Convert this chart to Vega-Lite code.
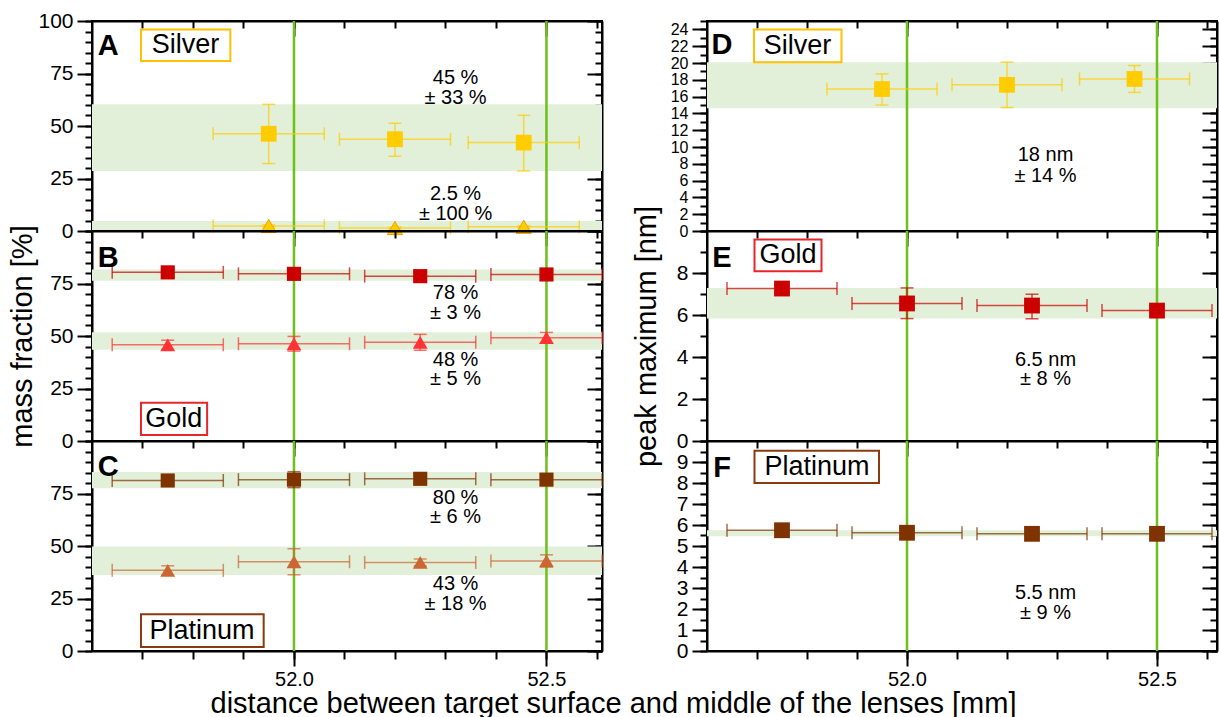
{
"$schema":"https://vega.github.io/schema/vega-lite/v6.json",
"background":"white",
"padding":{"left":6,"top":9,"right":0,"bottom":0},
"config":{
 "font":"Liberation Sans",
 "view":{"stroke":"black","strokeWidth":2},
 "axis":{"zindex":1,"grid":true,"gridOpacity":0,"domain":false,"labels":false,"ticks":true,"tickColor":"black","tickOpacity":1,"tickWidth":2,"domainColor":"black","domainWidth":2,"labelFont":"Liberation Sans","labelFontSize":21,"labelColor":"black","labelOverlap":false,"labelFlush":false,"labelPadding":4,"titleFont":"Liberation Sans","titleFontSize":29,"titleFontWeight":"normal","titleColor":"black"}
},
"datasets":{
 "vl":[{"v":52.0},{"v":52.5}],
 "bands":[
  {"p":"A","lo":28.6,"hi":60.3},{"p":"A","lo":0,"hi":4.8},
  {"p":"B","lo":76.3,"hi":81.7},{"p":"B","lo":43.4,"hi":51.8},
  {"p":"C","lo":77.5,"hi":85.2},{"p":"C","lo":36.2,"hi":49.8},
  {"p":"D","lo":14.6,"hi":20.1},
  {"p":"E","lo":5.83,"hi":7.29},
  {"p":"F","lo":5.47,"hi":5.75}
 ],
 "pts":[
  {"p":"A","m":"sq","k":"Ag-sq","x":51.95,"y":46.3,"ylo":32.1,"yhi":60.3,"xlo":51.84,"xhi":52.06},
  {"p":"A","m":"sq","k":"Ag-sq","x":52.2,"y":43.7,"ylo":35.6,"yhi":51.3,"xlo":52.09,"xhi":52.31},
  {"p":"A","m":"sq","k":"Ag-sq","x":52.455,"y":42.1,"ylo":28.6,"yhi":55.1,"xlo":52.345,"xhi":52.565},
  {"p":"A","m":"tri","k":"Ag-tri","x":51.95,"y":2.4,"ylo":1.9,"yhi":2.9,"xlo":51.84,"xhi":52.06},
  {"p":"A","m":"tri","k":"Ag-tri","x":52.2,"y":1.4,"ylo":0.9,"yhi":1.9,"xlo":52.09,"xhi":52.31},
  {"p":"A","m":"tri","k":"Ag-tri","x":52.455,"y":2.0,"ylo":1.5,"yhi":2.5,"xlo":52.345,"xhi":52.565},
  {"p":"B","m":"sq","k":"Au-sq","x":51.75,"y":80.3,"ylo":78.8,"yhi":81.8,"xlo":51.64,"xhi":51.86},
  {"p":"B","m":"sq","k":"Au-sq","x":52.0,"y":79.6,"ylo":78.1,"yhi":81.1,"xlo":51.89,"xhi":52.11},
  {"p":"B","m":"sq","k":"Au-sq","x":52.25,"y":78.5,"ylo":76.5,"yhi":80.5,"xlo":52.14,"xhi":52.36},
  {"p":"B","m":"sq","k":"Au-sq","x":52.5,"y":79.3,"ylo":77.8,"yhi":80.8,"xlo":52.39,"xhi":52.61},
  {"p":"B","m":"tri","k":"Au-tri","x":51.75,"y":45.8,"ylo":43.6,"yhi":48.0,"xlo":51.64,"xhi":51.86},
  {"p":"B","m":"tri","k":"Au-tri","x":52.0,"y":46.3,"ylo":42.8,"yhi":49.8,"xlo":51.89,"xhi":52.11},
  {"p":"B","m":"tri","k":"Au-tri","x":52.25,"y":47.0,"ylo":43.2,"yhi":50.8,"xlo":52.14,"xhi":52.36},
  {"p":"B","m":"tri","k":"Au-tri","x":52.5,"y":49.2,"ylo":46.7,"yhi":51.7,"xlo":52.39,"xhi":52.61},
  {"p":"C","m":"sq","k":"Pt-sq","x":51.75,"y":81.2,"ylo":79.7,"yhi":82.7,"xlo":51.64,"xhi":51.86},
  {"p":"C","m":"sq","k":"Pt-sq","x":52.0,"y":81.6,"ylo":77.8,"yhi":85.4,"xlo":51.89,"xhi":52.11},
  {"p":"C","m":"sq","k":"Pt-sq","x":52.25,"y":82.0,"ylo":79.5,"yhi":84.5,"xlo":52.14,"xhi":52.36},
  {"p":"C","m":"sq","k":"Pt-sq","x":52.5,"y":81.6,"ylo":79.1,"yhi":84.1,"xlo":52.39,"xhi":52.61},
  {"p":"C","m":"tri","k":"Pt-tri","x":51.75,"y":38.4,"ylo":36.2,"yhi":40.6,"xlo":51.64,"xhi":51.86},
  {"p":"C","m":"tri","k":"Pt-tri","x":52.0,"y":42.5,"ylo":36.3,"yhi":48.7,"xlo":51.89,"xhi":52.11},
  {"p":"C","m":"tri","k":"Pt-tri","x":52.25,"y":42.2,"ylo":40.6,"yhi":43.8,"xlo":52.14,"xhi":52.36},
  {"p":"C","m":"tri","k":"Pt-tri","x":52.5,"y":42.9,"ylo":40.0,"yhi":45.8,"xlo":52.39,"xhi":52.61},
  {"p":"D","m":"sq","k":"Ag-sq","x":51.95,"y":16.9,"ylo":15.0,"yhi":18.7,"xlo":51.84,"xhi":52.06},
  {"p":"D","m":"sq","k":"Ag-sq","x":52.2,"y":17.4,"ylo":14.7,"yhi":20.1,"xlo":52.09,"xhi":52.31},
  {"p":"D","m":"sq","k":"Ag-sq","x":52.455,"y":18.1,"ylo":16.5,"yhi":19.7,"xlo":52.345,"xhi":52.565},
  {"p":"E","m":"sq","k":"Au-sq","x":51.75,"y":7.26,"ylo":7.1,"yhi":7.4,"xlo":51.64,"xhi":51.86},
  {"p":"E","m":"sq","k":"Au-sq","x":52.0,"y":6.55,"ylo":5.83,"yhi":7.29,"xlo":51.89,"xhi":52.11},
  {"p":"E","m":"sq","k":"Au-sq","x":52.25,"y":6.45,"ylo":5.82,"yhi":6.99,"xlo":52.14,"xhi":52.36},
  {"p":"E","m":"sq","k":"Au-sq","x":52.5,"y":6.21,"ylo":6.06,"yhi":6.36,"xlo":52.39,"xhi":52.61},
  {"p":"F","m":"sq","k":"Pt-sq","x":51.75,"y":5.75,"ylo":5.45,"yhi":6.05,"xlo":51.64,"xhi":51.86},
  {"p":"F","m":"sq","k":"Pt-sq","x":52.0,"y":5.63,"ylo":5.48,"yhi":5.78,"xlo":51.89,"xhi":52.11},
  {"p":"F","m":"sq","k":"Pt-sq","x":52.25,"y":5.58,"ylo":5.33,"yhi":5.83,"xlo":52.14,"xhi":52.36},
  {"p":"F","m":"sq","k":"Pt-sq","x":52.5,"y":5.58,"ylo":5.43,"yhi":5.73,"xlo":52.39,"xhi":52.61}
 ],
 "txt":[
  {"p":"A","f":"ann","x":52.32,"y":72.9,"t":"45 %"},{"p":"A","f":"ann","x":52.32,"y":63.3,"t":"± 33 %"},
  {"p":"A","f":"ann","x":52.32,"y":17.8,"t":"2.5 %"},{"p":"A","f":"ann","x":52.32,"y":8.2,"t":"± 100 %"},
  {"p":"A","f":"let","x":51.632,"y":88.3,"t":"A"},
  {"p":"B","f":"ann","x":52.32,"y":70.3,"t":"78 %"},{"p":"B","f":"ann","x":52.32,"y":60.8,"t":"± 3 %"},
  {"p":"B","f":"ann","x":52.32,"y":38.7,"t":"48 %"},{"p":"B","f":"ann","x":52.32,"y":29.7,"t":"± 5 %"},
  {"p":"B","f":"let","x":51.632,"y":87.3,"t":"B"},
  {"p":"C","f":"ann","x":52.32,"y":73.0,"t":"80 %"},{"p":"C","f":"ann","x":52.32,"y":63.8,"t":"± 6 %"},
  {"p":"C","f":"ann","x":52.32,"y":31.7,"t":"43 %"},{"p":"C","f":"ann","x":52.32,"y":22.5,"t":"± 18 %"},
  {"p":"C","f":"let","x":51.632,"y":87.6,"t":"C"},
  {"p":"D","f":"ann","x":52.277,"y":9.1,"t":"18 nm"},{"p":"D","f":"ann","x":52.277,"y":6.6,"t":"± 14 %"},
  {"p":"D","f":"let","x":51.63,"y":22.1,"t":"D"},
  {"p":"E","f":"ann","x":52.277,"y":3.88,"t":"6.5 nm"},{"p":"E","f":"ann","x":52.277,"y":2.93,"t":"± 8 %"},
  {"p":"E","f":"let","x":51.63,"y":8.7,"t":"E"},
  {"p":"F","f":"ann","x":52.277,"y":2.77,"t":"5.5 nm"},{"p":"F","f":"ann","x":52.277,"y":1.79,"t":"± 9 %"},
  {"p":"F","f":"let","x":51.63,"y":8.7,"t":"F"}
 ],
 "box":[
  {"p":"A","t":"Silver","bx1":51.697,"bx2":51.874,"by1":81.0,"by2":96.0,"xc":51.785,"yc":88.4},
  {"p":"B","t":"Gold","bx1":51.697,"bx2":51.828,"by1":2.8,"by2":18.2,"xc":51.762,"yc":10.5},
  {"p":"C","t":"Platinum","bx1":51.697,"bx2":51.94,"by1":1.9,"by2":17.5,"xc":51.818,"yc":9.7},
  {"p":"D","t":"Silver","bx1":51.694,"bx2":51.869,"by1":20.1,"by2":24.0,"xc":51.781,"yc":22.05},
  {"p":"E","t":"Gold","bx1":51.695,"bx2":51.829,"by1":8.08,"by2":9.59,"xc":51.762,"yc":8.84},
  {"p":"F","t":"Platinum","bx1":51.695,"bx2":51.944,"by1":8.0,"by2":9.54,"xc":51.82,"yc":8.77}
 ]
},
"columns":2,
"spacing":{"row":0,"column":105},
"bounds":"flush",
"concat":[
 {"width":510,"height":210,"resolve":{"axis":{"x":"independent","y":"independent"}},"layer":[
  {"data":{"name":"bands"},"transform":[{"filter":"datum.p==='A'"}],"mark":{"type":"rect","color":"#E2F0D9"},"encoding":{"y":{"field":"lo","type":"quantitative","scale":{"domain":[0,100],"nice":false,"zero":false},"axis":null},"y2":{"field":"hi"}}},
  {"data":{"name":"vl"},"mark":{"type":"rule","color":"#6DBF1A","strokeWidth":2.5},"encoding":{"x":{"field":"v","type":"quantitative","scale":{"domain":[51.6,52.61],"nice":false,"zero":false},"axis":null}}},
  {"data":{"name":"pts"},"transform":[{"filter":"datum.p==='A'"}],"mark":{"type":"point","opacity":0},"encoding":{"x":{"field":"x","type":"quantitative","axis":{"orient":"top","values":[52.0,52.5],"tickSize":-15,"domain":true,"title":null,"encode":{"ticks":{"update":{"stroke":{"value":"black"},"strokeOpacity":{"value":1},"opacity":{"value":1}}}}}},"y":{"field":"y","type":"quantitative","axis":{"orient":"left","values":[0,25,50,75,100],"tickSize":15,"labels":true,"domain":true,"title":null,"encode":{"ticks":{"update":{"stroke":{"value":"black"},"strokeOpacity":{"value":1},"opacity":{"value":1}}}}}}}},
  {"data":{"name":"pts"},"transform":[{"filter":"datum.p==='A'"}],"mark":{"type":"point","opacity":0},"encoding":{"x":{"field":"x","type":"quantitative","axis":{"orient":"top","values":[51.7,51.8,51.9,52.0,52.1,52.2,52.3,52.4,52.5,52.6],"tickSize":-7,"title":null,"encode":{"ticks":{"update":{"stroke":{"value":"black"},"strokeOpacity":{"value":1},"opacity":{"value":1}}}}}},"y":{"field":"y","type":"quantitative","axis":{"orient":"left","values":[0,5,10,15,20,25,30,35,40,45,50,55,60,65,70,75,80,85,90,95,100],"tickSize":7,"title":null,"encode":{"ticks":{"update":{"stroke":{"value":"black"},"strokeOpacity":{"value":1},"opacity":{"value":1}}}}}}}},
  {"data":{"name":"pts"},"transform":[{"filter":"datum.p==='A'"}],"mark":{"type":"point","opacity":0},"encoding":{"x":{"field":"x","type":"quantitative","axis":null},"y":{"field":"y","type":"quantitative","axis":{"orient":"right","values":[0,25,50,75,100],"tickSize":-15,"domain":true,"title":null,"encode":{"ticks":{"update":{"stroke":{"value":"black"},"strokeOpacity":{"value":1},"opacity":{"value":1}}}}}}}},
  {"data":{"name":"pts"},"transform":[{"filter":"datum.p==='A'"}],"mark":{"type":"point","opacity":0},"encoding":{"x":{"field":"x","type":"quantitative","axis":null},"y":{"field":"y","type":"quantitative","axis":{"orient":"right","values":[0,5,10,15,20,25,30,35,40,45,50,55,60,65,70,75,80,85,90,95,100],"tickSize":-7,"title":null,"encode":{"ticks":{"update":{"stroke":{"value":"black"},"strokeOpacity":{"value":1},"opacity":{"value":1}}}}}}}},
  {"data":{"name":"pts"},"transform":[{"filter":"datum.p==='A'"}],"mark":{"type":"rule","strokeWidth":1.5,"opacity":0.7},"encoding":{"x":{"field":"xlo","type":"quantitative","axis":null},"x2":{"field":"xhi"},"y":{"field":"y","type":"quantitative","axis":null},"color":{"field":"k","type":"nominal","legend":null,"scale":{"domain":["Ag-sq","Ag-tri","Au-sq","Au-tri","Pt-sq","Pt-tri"],"range":["#FFCC00","#FFCC00","#CC0000","#FF3333","#7F3300","#CC6633"]}}}},
  {"data":{"name":"pts"},"transform":[{"filter":"datum.p==='A'"},{"fold":["xlo","xhi"],"as":["w","xc"]}],"mark":{"type":"point","shape":"M0,-1L0,1","filled":false,"size":169,"strokeWidth":1.5,"opacity":0.7},"encoding":{"x":{"field":"xc","type":"quantitative","axis":null},"y":{"field":"y","type":"quantitative","axis":null},"color":{"field":"k","type":"nominal","legend":null}}},
  {"data":{"name":"pts"},"transform":[{"filter":"datum.p==='A'"}],"mark":{"type":"rule","strokeWidth":1.5,"opacity":0.7},"encoding":{"y":{"field":"ylo","type":"quantitative","axis":null},"y2":{"field":"yhi"},"x":{"field":"x","type":"quantitative","axis":null},"color":{"field":"k","type":"nominal","legend":null}}},
  {"data":{"name":"pts"},"transform":[{"filter":"datum.p==='A'"},{"fold":["ylo","yhi"],"as":["w","yc"]}],"mark":{"type":"point","shape":"M-1,0L1,0","filled":false,"size":169,"strokeWidth":1.5,"opacity":0.7},"encoding":{"x":{"field":"x","type":"quantitative","axis":null},"y":{"field":"yc","type":"quantitative","axis":null},"color":{"field":"k","type":"nominal","legend":null}}},
  {"data":{"name":"pts"},"transform":[{"filter":"datum.p==='A' && datum.m==='sq'"}],"mark":{"type":"point","shape":"square","filled":true,"size":250,"opacity":1},"encoding":{"x":{"field":"x","type":"quantitative","axis":null},"y":{"field":"y","type":"quantitative","axis":null},"color":{"field":"k","type":"nominal","legend":null}}},
  {"data":{"name":"pts"},"transform":[{"filter":"datum.p==='A' && datum.m==='tri'"}],"mark":{"type":"point","shape":"triangle-up","filled":true,"size":230,"opacity":1,"stroke":"#F0A000","strokeWidth":1},"encoding":{"x":{"field":"x","type":"quantitative","axis":null},"y":{"field":"y","type":"quantitative","axis":null},"color":{"field":"k","type":"nominal","legend":null}}},
  {"data":{"name":"txt"},"transform":[{"filter":"datum.p==='A' && datum.f==='ann'"}],"mark":{"type":"text","fontSize":20,"color":"black","align":"center","baseline":"middle"},"encoding":{"x":{"field":"x","type":"quantitative","axis":null},"y":{"field":"y","type":"quantitative","axis":null},"text":{"field":"t"}}},
  {"data":{"name":"txt"},"transform":[{"filter":"datum.p==='A' && datum.f==='let'"}],"mark":{"type":"text","fontSize":29,"fontWeight":"bold","color":"black","align":"center","baseline":"middle"},"encoding":{"x":{"field":"x","type":"quantitative","axis":null},"y":{"field":"y","type":"quantitative","axis":null},"text":{"field":"t"}}},
  {"data":{"name":"box"},"transform":[{"filter":"datum.p==='A'"}],"mark":{"type":"rect","fill":"white","strokeWidth":2},"encoding":{"x":{"field":"bx1","type":"quantitative","axis":null},"x2":{"field":"bx2"},"y":{"field":"by1","type":"quantitative","axis":null},"y2":{"field":"by2"},"stroke":{"field":"t","type":"nominal","legend":null,"scale":{"domain":["Silver","Gold","Platinum"],"range":["#FFC000","#E8262A","#8B3A10"]}}}},
  {"data":{"name":"box"},"transform":[{"filter":"datum.p==='A'"}],"mark":{"type":"text","fontSize":27,"color":"black","align":"center","baseline":"middle"},"encoding":{"x":{"field":"xc","type":"quantitative","axis":null},"y":{"field":"yc","type":"quantitative","axis":null},"text":{"field":"t"}}}
 ]},
 {"width":510,"height":210,"resolve":{"axis":{"x":"independent","y":"independent"}},"layer":[
  {"data":{"name":"bands"},"transform":[{"filter":"datum.p==='D'"}],"mark":{"type":"rect","color":"#E2F0D9"},"encoding":{"y":{"field":"lo","type":"quantitative","scale":{"domain":[0,25],"nice":false,"zero":false},"axis":null},"y2":{"field":"hi"}}},
  {"data":{"name":"vl"},"mark":{"type":"rule","color":"#6DBF1A","strokeWidth":2.5},"encoding":{"x":{"field":"v","type":"quantitative","scale":{"domain":[51.6,52.62],"nice":false,"zero":false},"axis":null}}},
  {"data":{"name":"pts"},"transform":[{"filter":"datum.p==='D'"}],"mark":{"type":"point","opacity":0},"encoding":{"x":{"field":"x","type":"quantitative","axis":{"orient":"top","values":[52.0,52.5],"tickSize":-15,"domain":true,"title":null,"encode":{"ticks":{"update":{"stroke":{"value":"black"},"strokeOpacity":{"value":1},"opacity":{"value":1}}}}}},"y":{"field":"y","type":"quantitative","axis":{"orient":"left","values":[0,2,4,6,8,10,12,14,16,18,20,22,24],"tickSize":15,"labels":true,"labelFontSize":16,"domain":true,"title":null,"encode":{"ticks":{"update":{"stroke":{"value":"black"},"strokeOpacity":{"value":1},"opacity":{"value":1}}}}}}}},
  {"data":{"name":"pts"},"transform":[{"filter":"datum.p==='D'"}],"mark":{"type":"point","opacity":0},"encoding":{"x":{"field":"x","type":"quantitative","axis":{"orient":"top","values":[51.7,51.8,51.9,52.0,52.1,52.2,52.3,52.4,52.5,52.6],"tickSize":-7,"title":null,"encode":{"ticks":{"update":{"stroke":{"value":"black"},"strokeOpacity":{"value":1},"opacity":{"value":1}}}}}},"y":{"field":"y","type":"quantitative","axis":{"orient":"left","values":[0,1,2,3,4,5,6,7,8,9,10,11,12,13,14,15,16,17,18,19,20,21,22,23,24,25],"tickSize":7,"title":null,"encode":{"ticks":{"update":{"stroke":{"value":"black"},"strokeOpacity":{"value":1},"opacity":{"value":1}}}}}}}},
  {"data":{"name":"pts"},"transform":[{"filter":"datum.p==='D'"}],"mark":{"type":"point","opacity":0},"encoding":{"x":{"field":"x","type":"quantitative","axis":null},"y":{"field":"y","type":"quantitative","axis":{"orient":"right","values":[0,2,4,6,8,10,12,14,16,18,20,22,24],"tickSize":-15,"domain":true,"title":null,"encode":{"ticks":{"update":{"stroke":{"value":"black"},"strokeOpacity":{"value":1},"opacity":{"value":1}}}}}}}},
  {"data":{"name":"pts"},"transform":[{"filter":"datum.p==='D'"}],"mark":{"type":"point","opacity":0},"encoding":{"x":{"field":"x","type":"quantitative","axis":null},"y":{"field":"y","type":"quantitative","axis":{"orient":"right","values":[0,1,2,3,4,5,6,7,8,9,10,11,12,13,14,15,16,17,18,19,20,21,22,23,24,25],"tickSize":-7,"title":null,"encode":{"ticks":{"update":{"stroke":{"value":"black"},"strokeOpacity":{"value":1},"opacity":{"value":1}}}}}}}},
  {"data":{"name":"pts"},"transform":[{"filter":"datum.p==='D'"}],"mark":{"type":"rule","strokeWidth":1.5,"opacity":0.7},"encoding":{"x":{"field":"xlo","type":"quantitative","axis":null},"x2":{"field":"xhi"},"y":{"field":"y","type":"quantitative","axis":null},"color":{"field":"k","type":"nominal","legend":null}}},
  {"data":{"name":"pts"},"transform":[{"filter":"datum.p==='D'"},{"fold":["xlo","xhi"],"as":["w","xc"]}],"mark":{"type":"point","shape":"M0,-1L0,1","filled":false,"size":169,"strokeWidth":1.5,"opacity":0.7},"encoding":{"x":{"field":"xc","type":"quantitative","axis":null},"y":{"field":"y","type":"quantitative","axis":null},"color":{"field":"k","type":"nominal","legend":null}}},
  {"data":{"name":"pts"},"transform":[{"filter":"datum.p==='D'"}],"mark":{"type":"rule","strokeWidth":1.5,"opacity":0.7},"encoding":{"y":{"field":"ylo","type":"quantitative","axis":null},"y2":{"field":"yhi"},"x":{"field":"x","type":"quantitative","axis":null},"color":{"field":"k","type":"nominal","legend":null}}},
  {"data":{"name":"pts"},"transform":[{"filter":"datum.p==='D'"},{"fold":["ylo","yhi"],"as":["w","yc"]}],"mark":{"type":"point","shape":"M-1,0L1,0","filled":false,"size":169,"strokeWidth":1.5,"opacity":0.7},"encoding":{"x":{"field":"x","type":"quantitative","axis":null},"y":{"field":"yc","type":"quantitative","axis":null},"color":{"field":"k","type":"nominal","legend":null}}},
  {"data":{"name":"pts"},"transform":[{"filter":"datum.p==='D' && datum.m==='sq'"}],"mark":{"type":"point","shape":"square","filled":true,"size":250,"opacity":1},"encoding":{"x":{"field":"x","type":"quantitative","axis":null},"y":{"field":"y","type":"quantitative","axis":null},"color":{"field":"k","type":"nominal","legend":null}}},
  {"data":{"name":"txt"},"transform":[{"filter":"datum.p==='D' && datum.f==='ann'"}],"mark":{"type":"text","fontSize":20,"color":"black","align":"center","baseline":"middle"},"encoding":{"x":{"field":"x","type":"quantitative","axis":null},"y":{"field":"y","type":"quantitative","axis":null},"text":{"field":"t"}}},
  {"data":{"name":"txt"},"transform":[{"filter":"datum.p==='D' && datum.f==='let'"}],"mark":{"type":"text","fontSize":29,"fontWeight":"bold","color":"black","align":"center","baseline":"middle"},"encoding":{"x":{"field":"x","type":"quantitative","axis":null},"y":{"field":"y","type":"quantitative","axis":null},"text":{"field":"t"}}},
  {"data":{"name":"box"},"transform":[{"filter":"datum.p==='D'"}],"mark":{"type":"rect","fill":"white","strokeWidth":2},"encoding":{"x":{"field":"bx1","type":"quantitative","axis":null},"x2":{"field":"bx2"},"y":{"field":"by1","type":"quantitative","axis":null},"y2":{"field":"by2"},"stroke":{"field":"t","type":"nominal","legend":null}}},
  {"data":{"name":"box"},"transform":[{"filter":"datum.p==='D'"}],"mark":{"type":"text","fontSize":27,"color":"black","align":"center","baseline":"middle"},"encoding":{"x":{"field":"xc","type":"quantitative","axis":null},"y":{"field":"yc","type":"quantitative","axis":null},"text":{"field":"t"}}}
 ]},
 {"width":510,"height":210,"resolve":{"axis":{"x":"independent","y":"independent"}},"layer":[
  {"data":{"name":"bands"},"transform":[{"filter":"datum.p==='B'"}],"mark":{"type":"rect","color":"#E2F0D9"},"encoding":{"y":{"field":"lo","type":"quantitative","scale":{"domain":[0,100],"nice":false,"zero":false},"axis":null},"y2":{"field":"hi"}}},
  {"data":{"name":"vl"},"mark":{"type":"rule","color":"#6DBF1A","strokeWidth":2.5},"encoding":{"x":{"field":"v","type":"quantitative","scale":{"domain":[51.6,52.61],"nice":false,"zero":false},"axis":null}}},
  {"data":{"name":"pts"},"transform":[{"filter":"datum.p==='B'"}],"mark":{"type":"point","opacity":0},"encoding":{"x":{"field":"x","type":"quantitative","axis":{"orient":"top","values":[52.0,52.5],"tickSize":-15,"domain":true,"title":null,"encode":{"ticks":{"update":{"stroke":{"value":"black"},"strokeOpacity":{"value":1},"opacity":{"value":1}}}}}},"y":{"field":"y","type":"quantitative","axis":{"orient":"left","values":[0,25,50,75],"tickSize":15,"labels":true,"domain":true,"title":"mass fraction [%]","titleX":-61,"titleY":105,"titleAngle":-90,"titleBaseline":"alphabetic","titleAlign":"center","encode":{"ticks":{"update":{"stroke":{"value":"black"},"strokeOpacity":{"value":1},"opacity":{"value":1}}}}}}}},
  {"data":{"name":"pts"},"transform":[{"filter":"datum.p==='B'"}],"mark":{"type":"point","opacity":0},"encoding":{"x":{"field":"x","type":"quantitative","axis":{"orient":"top","values":[51.7,51.8,51.9,52.0,52.1,52.2,52.3,52.4,52.5,52.6],"tickSize":-7,"title":null,"encode":{"ticks":{"update":{"stroke":{"value":"black"},"strokeOpacity":{"value":1},"opacity":{"value":1}}}}}},"y":{"field":"y","type":"quantitative","axis":{"orient":"left","values":[0,5,10,15,20,25,30,35,40,45,50,55,60,65,70,75,80,85,90,95,100],"tickSize":7,"title":null,"encode":{"ticks":{"update":{"stroke":{"value":"black"},"strokeOpacity":{"value":1},"opacity":{"value":1}}}}}}}},
  {"data":{"name":"pts"},"transform":[{"filter":"datum.p==='B'"}],"mark":{"type":"point","opacity":0},"encoding":{"x":{"field":"x","type":"quantitative","axis":null},"y":{"field":"y","type":"quantitative","axis":{"orient":"right","values":[0,25,50,75,100],"tickSize":-15,"domain":true,"title":null,"encode":{"ticks":{"update":{"stroke":{"value":"black"},"strokeOpacity":{"value":1},"opacity":{"value":1}}}}}}}},
  {"data":{"name":"pts"},"transform":[{"filter":"datum.p==='B'"}],"mark":{"type":"point","opacity":0},"encoding":{"x":{"field":"x","type":"quantitative","axis":null},"y":{"field":"y","type":"quantitative","axis":{"orient":"right","values":[0,5,10,15,20,25,30,35,40,45,50,55,60,65,70,75,80,85,90,95,100],"tickSize":-7,"title":null,"encode":{"ticks":{"update":{"stroke":{"value":"black"},"strokeOpacity":{"value":1},"opacity":{"value":1}}}}}}}},
  {"data":{"name":"pts"},"transform":[{"filter":"datum.p==='B'"}],"mark":{"type":"rule","strokeWidth":1.5,"opacity":0.7},"encoding":{"x":{"field":"xlo","type":"quantitative","axis":null},"x2":{"field":"xhi"},"y":{"field":"y","type":"quantitative","axis":null},"color":{"field":"k","type":"nominal","legend":null}}},
  {"data":{"name":"pts"},"transform":[{"filter":"datum.p==='B'"},{"fold":["xlo","xhi"],"as":["w","xc"]}],"mark":{"type":"point","shape":"M0,-1L0,1","filled":false,"size":169,"strokeWidth":1.5,"opacity":0.7},"encoding":{"x":{"field":"xc","type":"quantitative","axis":null},"y":{"field":"y","type":"quantitative","axis":null},"color":{"field":"k","type":"nominal","legend":null}}},
  {"data":{"name":"pts"},"transform":[{"filter":"datum.p==='B'"}],"mark":{"type":"rule","strokeWidth":1.5,"opacity":0.7},"encoding":{"y":{"field":"ylo","type":"quantitative","axis":null},"y2":{"field":"yhi"},"x":{"field":"x","type":"quantitative","axis":null},"color":{"field":"k","type":"nominal","legend":null}}},
  {"data":{"name":"pts"},"transform":[{"filter":"datum.p==='B'"},{"fold":["ylo","yhi"],"as":["w","yc"]}],"mark":{"type":"point","shape":"M-1,0L1,0","filled":false,"size":169,"strokeWidth":1.5,"opacity":0.7},"encoding":{"x":{"field":"x","type":"quantitative","axis":null},"y":{"field":"yc","type":"quantitative","axis":null},"color":{"field":"k","type":"nominal","legend":null}}},
  {"data":{"name":"pts"},"transform":[{"filter":"datum.p==='B' && datum.m==='sq'"}],"mark":{"type":"point","shape":"square","filled":true,"size":200,"opacity":1},"encoding":{"x":{"field":"x","type":"quantitative","axis":null},"y":{"field":"y","type":"quantitative","axis":null},"color":{"field":"k","type":"nominal","legend":null}}},
  {"data":{"name":"pts"},"transform":[{"filter":"datum.p==='B' && datum.m==='tri'"}],"mark":{"type":"point","shape":"triangle-up","filled":true,"size":220,"opacity":1},"encoding":{"x":{"field":"x","type":"quantitative","axis":null},"y":{"field":"y","type":"quantitative","axis":null},"color":{"field":"k","type":"nominal","legend":null}}},
  {"data":{"name":"txt"},"transform":[{"filter":"datum.p==='B' && datum.f==='ann'"}],"mark":{"type":"text","fontSize":20,"color":"black","align":"center","baseline":"middle"},"encoding":{"x":{"field":"x","type":"quantitative","axis":null},"y":{"field":"y","type":"quantitative","axis":null},"text":{"field":"t"}}},
  {"data":{"name":"txt"},"transform":[{"filter":"datum.p==='B' && datum.f==='let'"}],"mark":{"type":"text","fontSize":29,"fontWeight":"bold","color":"black","align":"center","baseline":"middle"},"encoding":{"x":{"field":"x","type":"quantitative","axis":null},"y":{"field":"y","type":"quantitative","axis":null},"text":{"field":"t"}}},
  {"data":{"name":"box"},"transform":[{"filter":"datum.p==='B'"}],"mark":{"type":"rect","fill":"white","strokeWidth":2},"encoding":{"x":{"field":"bx1","type":"quantitative","axis":null},"x2":{"field":"bx2"},"y":{"field":"by1","type":"quantitative","axis":null},"y2":{"field":"by2"},"stroke":{"field":"t","type":"nominal","legend":null}}},
  {"data":{"name":"box"},"transform":[{"filter":"datum.p==='B'"}],"mark":{"type":"text","fontSize":27,"color":"black","align":"center","baseline":"middle"},"encoding":{"x":{"field":"xc","type":"quantitative","axis":null},"y":{"field":"yc","type":"quantitative","axis":null},"text":{"field":"t"}}}
 ]},
 {"width":510,"height":210,"resolve":{"axis":{"x":"independent","y":"independent"}},"layer":[
  {"data":{"name":"bands"},"transform":[{"filter":"datum.p==='E'"}],"mark":{"type":"rect","color":"#E2F0D9"},"encoding":{"y":{"field":"lo","type":"quantitative","scale":{"domain":[0,10],"nice":false,"zero":false},"axis":null},"y2":{"field":"hi"}}},
  {"data":{"name":"vl"},"mark":{"type":"rule","color":"#6DBF1A","strokeWidth":2.5},"encoding":{"x":{"field":"v","type":"quantitative","scale":{"domain":[51.6,52.62],"nice":false,"zero":false},"axis":null}}},
  {"data":{"name":"pts"},"transform":[{"filter":"datum.p==='E'"}],"mark":{"type":"point","opacity":0},"encoding":{"x":{"field":"x","type":"quantitative","axis":{"orient":"top","values":[52.0,52.5],"tickSize":-15,"domain":true,"title":null,"encode":{"ticks":{"update":{"stroke":{"value":"black"},"strokeOpacity":{"value":1},"opacity":{"value":1}}}}}},"y":{"field":"y","type":"quantitative","axis":{"orient":"left","values":[0,2,4,6,8],"tickSize":15,"labels":true,"domain":true,"title":"peak maximum [nm]","titleX":-52,"titleY":105,"titleAngle":-90,"titleBaseline":"alphabetic","titleAlign":"center","encode":{"ticks":{"update":{"stroke":{"value":"black"},"strokeOpacity":{"value":1},"opacity":{"value":1}}}}}}}},
  {"data":{"name":"pts"},"transform":[{"filter":"datum.p==='E'"}],"mark":{"type":"point","opacity":0},"encoding":{"x":{"field":"x","type":"quantitative","axis":{"orient":"top","values":[51.7,51.8,51.9,52.0,52.1,52.2,52.3,52.4,52.5,52.6],"tickSize":-7,"title":null,"encode":{"ticks":{"update":{"stroke":{"value":"black"},"strokeOpacity":{"value":1},"opacity":{"value":1}}}}}},"y":{"field":"y","type":"quantitative","axis":{"orient":"left","values":[0,1,2,3,4,5,6,7,8,9,10],"tickSize":7,"title":null,"encode":{"ticks":{"update":{"stroke":{"value":"black"},"strokeOpacity":{"value":1},"opacity":{"value":1}}}}}}}},
  {"data":{"name":"pts"},"transform":[{"filter":"datum.p==='E'"}],"mark":{"type":"point","opacity":0},"encoding":{"x":{"field":"x","type":"quantitative","axis":null},"y":{"field":"y","type":"quantitative","axis":{"orient":"right","values":[0,2,4,6,8,10],"tickSize":-15,"domain":true,"title":null,"encode":{"ticks":{"update":{"stroke":{"value":"black"},"strokeOpacity":{"value":1},"opacity":{"value":1}}}}}}}},
  {"data":{"name":"pts"},"transform":[{"filter":"datum.p==='E'"}],"mark":{"type":"point","opacity":0},"encoding":{"x":{"field":"x","type":"quantitative","axis":null},"y":{"field":"y","type":"quantitative","axis":{"orient":"right","values":[0,1,2,3,4,5,6,7,8,9,10],"tickSize":-7,"title":null,"encode":{"ticks":{"update":{"stroke":{"value":"black"},"strokeOpacity":{"value":1},"opacity":{"value":1}}}}}}}},
  {"data":{"name":"pts"},"transform":[{"filter":"datum.p==='E'"}],"mark":{"type":"rule","strokeWidth":1.5,"opacity":0.7},"encoding":{"x":{"field":"xlo","type":"quantitative","axis":null},"x2":{"field":"xhi"},"y":{"field":"y","type":"quantitative","axis":null},"color":{"field":"k","type":"nominal","legend":null}}},
  {"data":{"name":"pts"},"transform":[{"filter":"datum.p==='E'"},{"fold":["xlo","xhi"],"as":["w","xc"]}],"mark":{"type":"point","shape":"M0,-1L0,1","filled":false,"size":169,"strokeWidth":1.5,"opacity":0.7},"encoding":{"x":{"field":"xc","type":"quantitative","axis":null},"y":{"field":"y","type":"quantitative","axis":null},"color":{"field":"k","type":"nominal","legend":null}}},
  {"data":{"name":"pts"},"transform":[{"filter":"datum.p==='E'"}],"mark":{"type":"rule","strokeWidth":1.5,"opacity":0.7},"encoding":{"y":{"field":"ylo","type":"quantitative","axis":null},"y2":{"field":"yhi"},"x":{"field":"x","type":"quantitative","axis":null},"color":{"field":"k","type":"nominal","legend":null}}},
  {"data":{"name":"pts"},"transform":[{"filter":"datum.p==='E'"},{"fold":["ylo","yhi"],"as":["w","yc"]}],"mark":{"type":"point","shape":"M-1,0L1,0","filled":false,"size":169,"strokeWidth":1.5,"opacity":0.7},"encoding":{"x":{"field":"x","type":"quantitative","axis":null},"y":{"field":"yc","type":"quantitative","axis":null},"color":{"field":"k","type":"nominal","legend":null}}},
  {"data":{"name":"pts"},"transform":[{"filter":"datum.p==='E' && datum.m==='sq'"}],"mark":{"type":"point","shape":"square","filled":true,"size":250,"opacity":1},"encoding":{"x":{"field":"x","type":"quantitative","axis":null},"y":{"field":"y","type":"quantitative","axis":null},"color":{"field":"k","type":"nominal","legend":null}}},
  {"data":{"name":"txt"},"transform":[{"filter":"datum.p==='E' && datum.f==='ann'"}],"mark":{"type":"text","fontSize":20,"color":"black","align":"center","baseline":"middle"},"encoding":{"x":{"field":"x","type":"quantitative","axis":null},"y":{"field":"y","type":"quantitative","axis":null},"text":{"field":"t"}}},
  {"data":{"name":"txt"},"transform":[{"filter":"datum.p==='E' && datum.f==='let'"}],"mark":{"type":"text","fontSize":29,"fontWeight":"bold","color":"black","align":"center","baseline":"middle"},"encoding":{"x":{"field":"x","type":"quantitative","axis":null},"y":{"field":"y","type":"quantitative","axis":null},"text":{"field":"t"}}},
  {"data":{"name":"box"},"transform":[{"filter":"datum.p==='E'"}],"mark":{"type":"rect","fill":"white","strokeWidth":2},"encoding":{"x":{"field":"bx1","type":"quantitative","axis":null},"x2":{"field":"bx2"},"y":{"field":"by1","type":"quantitative","axis":null},"y2":{"field":"by2"},"stroke":{"field":"t","type":"nominal","legend":null}}},
  {"data":{"name":"box"},"transform":[{"filter":"datum.p==='E'"}],"mark":{"type":"text","fontSize":27,"color":"black","align":"center","baseline":"middle"},"encoding":{"x":{"field":"xc","type":"quantitative","axis":null},"y":{"field":"yc","type":"quantitative","axis":null},"text":{"field":"t"}}}
 ]},
 {"width":510,"height":210,"resolve":{"axis":{"x":"independent","y":"independent"}},"layer":[
  {"data":{"name":"bands"},"transform":[{"filter":"datum.p==='C'"}],"mark":{"type":"rect","color":"#E2F0D9"},"encoding":{"y":{"field":"lo","type":"quantitative","scale":{"domain":[0,100],"nice":false,"zero":false},"axis":null},"y2":{"field":"hi"}}},
  {"data":{"name":"vl"},"mark":{"type":"rule","color":"#6DBF1A","strokeWidth":2.5},"encoding":{"x":{"field":"v","type":"quantitative","scale":{"domain":[51.6,52.61],"nice":false,"zero":false},"axis":null}}},
  {"data":{"name":"pts"},"transform":[{"filter":"datum.p==='C'"}],"mark":{"type":"point","opacity":0},"encoding":{"x":{"field":"x","type":"quantitative","axis":{"orient":"top","values":[52.0,52.5],"tickSize":-15,"domain":true,"title":null,"encode":{"ticks":{"update":{"stroke":{"value":"black"},"strokeOpacity":{"value":1},"opacity":{"value":1}}}}}},"y":{"field":"y","type":"quantitative","axis":{"orient":"left","values":[0,25,50,75],"tickSize":15,"labels":true,"domain":true,"title":null,"encode":{"ticks":{"update":{"stroke":{"value":"black"},"strokeOpacity":{"value":1},"opacity":{"value":1}}}}}}}},
  {"data":{"name":"pts"},"transform":[{"filter":"datum.p==='C'"}],"mark":{"type":"point","opacity":0},"encoding":{"x":{"field":"x","type":"quantitative","axis":{"orient":"top","values":[51.7,51.8,51.9,52.0,52.1,52.2,52.3,52.4,52.5,52.6],"tickSize":-7,"title":null,"encode":{"ticks":{"update":{"stroke":{"value":"black"},"strokeOpacity":{"value":1},"opacity":{"value":1}}}}}},"y":{"field":"y","type":"quantitative","axis":{"orient":"left","values":[0,5,10,15,20,25,30,35,40,45,50,55,60,65,70,75,80,85,90,95,100],"tickSize":7,"title":null,"encode":{"ticks":{"update":{"stroke":{"value":"black"},"strokeOpacity":{"value":1},"opacity":{"value":1}}}}}}}},
  {"data":{"name":"pts"},"transform":[{"filter":"datum.p==='C'"}],"mark":{"type":"point","opacity":0},"encoding":{"x":{"field":"x","type":"quantitative","axis":{"orient":"bottom","values":[52.0,52.5],"tickSize":15,"labels":true,"labelPadding":3,"labelFontSize":20,"format":".1f","domain":true,"title":"distance between target surface and middle of the lenses [mm]","titleX":521,"titleY":61,"titleBaseline":"alphabetic","titleAlign":"center","titleAngle":0,"encode":{"ticks":{"update":{"stroke":{"value":"black"},"strokeOpacity":{"value":1},"opacity":{"value":1}}}}}},"y":{"field":"y","type":"quantitative","axis":{"orient":"right","values":[0,25,50,75,100],"tickSize":-15,"domain":true,"title":null,"encode":{"ticks":{"update":{"stroke":{"value":"black"},"strokeOpacity":{"value":1},"opacity":{"value":1}}}}}}}},
  {"data":{"name":"pts"},"transform":[{"filter":"datum.p==='C'"}],"mark":{"type":"point","opacity":0},"encoding":{"x":{"field":"x","type":"quantitative","axis":{"orient":"bottom","values":[51.7,51.8,51.9,52.0,52.1,52.2,52.3,52.4,52.5,52.6],"tickSize":8,"title":null,"encode":{"ticks":{"update":{"stroke":{"value":"black"},"strokeOpacity":{"value":1},"opacity":{"value":1}}}}}},"y":{"field":"y","type":"quantitative","axis":{"orient":"right","values":[0,5,10,15,20,25,30,35,40,45,50,55,60,65,70,75,80,85,90,95,100],"tickSize":-7,"title":null,"encode":{"ticks":{"update":{"stroke":{"value":"black"},"strokeOpacity":{"value":1},"opacity":{"value":1}}}}}}}},
  {"data":{"name":"pts"},"transform":[{"filter":"datum.p==='C'"}],"mark":{"type":"rule","strokeWidth":1.5,"opacity":0.7},"encoding":{"x":{"field":"xlo","type":"quantitative","axis":null},"x2":{"field":"xhi"},"y":{"field":"y","type":"quantitative","axis":null},"color":{"field":"k","type":"nominal","legend":null}}},
  {"data":{"name":"pts"},"transform":[{"filter":"datum.p==='C'"},{"fold":["xlo","xhi"],"as":["w","xc"]}],"mark":{"type":"point","shape":"M0,-1L0,1","filled":false,"size":169,"strokeWidth":1.5,"opacity":0.7},"encoding":{"x":{"field":"xc","type":"quantitative","axis":null},"y":{"field":"y","type":"quantitative","axis":null},"color":{"field":"k","type":"nominal","legend":null}}},
  {"data":{"name":"pts"},"transform":[{"filter":"datum.p==='C'"}],"mark":{"type":"rule","strokeWidth":1.5,"opacity":0.7},"encoding":{"y":{"field":"ylo","type":"quantitative","axis":null},"y2":{"field":"yhi"},"x":{"field":"x","type":"quantitative","axis":null},"color":{"field":"k","type":"nominal","legend":null}}},
  {"data":{"name":"pts"},"transform":[{"filter":"datum.p==='C'"},{"fold":["ylo","yhi"],"as":["w","yc"]}],"mark":{"type":"point","shape":"M-1,0L1,0","filled":false,"size":169,"strokeWidth":1.5,"opacity":0.7},"encoding":{"x":{"field":"x","type":"quantitative","axis":null},"y":{"field":"yc","type":"quantitative","axis":null},"color":{"field":"k","type":"nominal","legend":null}}},
  {"data":{"name":"pts"},"transform":[{"filter":"datum.p==='C' && datum.m==='sq'"}],"mark":{"type":"point","shape":"square","filled":true,"size":200,"opacity":1},"encoding":{"x":{"field":"x","type":"quantitative","axis":null},"y":{"field":"y","type":"quantitative","axis":null},"color":{"field":"k","type":"nominal","legend":null}}},
  {"data":{"name":"pts"},"transform":[{"filter":"datum.p==='C' && datum.m==='tri'"}],"mark":{"type":"point","shape":"triangle-up","filled":true,"size":220,"opacity":1},"encoding":{"x":{"field":"x","type":"quantitative","axis":null},"y":{"field":"y","type":"quantitative","axis":null},"color":{"field":"k","type":"nominal","legend":null}}},
  {"data":{"name":"txt"},"transform":[{"filter":"datum.p==='C' && datum.f==='ann'"}],"mark":{"type":"text","fontSize":20,"color":"black","align":"center","baseline":"middle"},"encoding":{"x":{"field":"x","type":"quantitative","axis":null},"y":{"field":"y","type":"quantitative","axis":null},"text":{"field":"t"}}},
  {"data":{"name":"txt"},"transform":[{"filter":"datum.p==='C' && datum.f==='let'"}],"mark":{"type":"text","fontSize":29,"fontWeight":"bold","color":"black","align":"center","baseline":"middle"},"encoding":{"x":{"field":"x","type":"quantitative","axis":null},"y":{"field":"y","type":"quantitative","axis":null},"text":{"field":"t"}}},
  {"data":{"name":"box"},"transform":[{"filter":"datum.p==='C'"}],"mark":{"type":"rect","fill":"white","strokeWidth":2},"encoding":{"x":{"field":"bx1","type":"quantitative","axis":null},"x2":{"field":"bx2"},"y":{"field":"by1","type":"quantitative","axis":null},"y2":{"field":"by2"},"stroke":{"field":"t","type":"nominal","legend":null}}},
  {"data":{"name":"box"},"transform":[{"filter":"datum.p==='C'"}],"mark":{"type":"text","fontSize":27,"color":"black","align":"center","baseline":"middle"},"encoding":{"x":{"field":"xc","type":"quantitative","axis":null},"y":{"field":"yc","type":"quantitative","axis":null},"text":{"field":"t"}}}
 ]},
 {"width":510,"height":210,"resolve":{"axis":{"x":"independent","y":"independent"}},"layer":[
  {"data":{"name":"bands"},"transform":[{"filter":"datum.p==='F'"}],"mark":{"type":"rect","color":"#E2F0D9"},"encoding":{"y":{"field":"lo","type":"quantitative","scale":{"domain":[0,10],"nice":false,"zero":false},"axis":null},"y2":{"field":"hi"}}},
  {"data":{"name":"vl"},"mark":{"type":"rule","color":"#6DBF1A","strokeWidth":2.5},"encoding":{"x":{"field":"v","type":"quantitative","scale":{"domain":[51.6,52.62],"nice":false,"zero":false},"axis":null}}},
  {"data":{"name":"pts"},"transform":[{"filter":"datum.p==='F'"}],"mark":{"type":"point","opacity":0},"encoding":{"x":{"field":"x","type":"quantitative","axis":{"orient":"top","values":[52.0,52.5],"tickSize":-15,"domain":true,"title":null,"encode":{"ticks":{"update":{"stroke":{"value":"black"},"strokeOpacity":{"value":1},"opacity":{"value":1}}}}}},"y":{"field":"y","type":"quantitative","axis":{"orient":"left","values":[0,1,2,3,4,5,6,7,8,9],"tickSize":15,"labels":true,"domain":true,"title":null,"encode":{"ticks":{"update":{"stroke":{"value":"black"},"strokeOpacity":{"value":1},"opacity":{"value":1}}}}}}}},
  {"data":{"name":"pts"},"transform":[{"filter":"datum.p==='F'"}],"mark":{"type":"point","opacity":0},"encoding":{"x":{"field":"x","type":"quantitative","axis":{"orient":"top","values":[51.7,51.8,51.9,52.0,52.1,52.2,52.3,52.4,52.5,52.6],"tickSize":-7,"title":null,"encode":{"ticks":{"update":{"stroke":{"value":"black"},"strokeOpacity":{"value":1},"opacity":{"value":1}}}}}},"y":{"field":"y","type":"quantitative","axis":{"orient":"left","values":[0,0.5,1,1.5,2,2.5,3,3.5,4,4.5,5,5.5,6,6.5,7,7.5,8,8.5,9,9.5,10],"tickSize":7,"title":null,"encode":{"ticks":{"update":{"stroke":{"value":"black"},"strokeOpacity":{"value":1},"opacity":{"value":1}}}}}}}},
  {"data":{"name":"pts"},"transform":[{"filter":"datum.p==='F'"}],"mark":{"type":"point","opacity":0},"encoding":{"x":{"field":"x","type":"quantitative","axis":{"orient":"bottom","values":[52.0,52.5],"tickSize":15,"labels":true,"labelPadding":3,"labelFontSize":20,"format":".1f","domain":true,"title":null,"encode":{"ticks":{"update":{"stroke":{"value":"black"},"strokeOpacity":{"value":1},"opacity":{"value":1}}}}}},"y":{"field":"y","type":"quantitative","axis":{"orient":"right","values":[0,1,2,3,4,5,6,7,8,9,10],"tickSize":-15,"domain":true,"title":null,"encode":{"ticks":{"update":{"stroke":{"value":"black"},"strokeOpacity":{"value":1},"opacity":{"value":1}}}}}}}},
  {"data":{"name":"pts"},"transform":[{"filter":"datum.p==='F'"}],"mark":{"type":"point","opacity":0},"encoding":{"x":{"field":"x","type":"quantitative","axis":{"orient":"bottom","values":[51.7,51.8,51.9,52.0,52.1,52.2,52.3,52.4,52.5,52.6],"tickSize":8,"title":null,"encode":{"ticks":{"update":{"stroke":{"value":"black"},"strokeOpacity":{"value":1},"opacity":{"value":1}}}}}},"y":{"field":"y","type":"quantitative","axis":{"orient":"right","values":[0,0.5,1,1.5,2,2.5,3,3.5,4,4.5,5,5.5,6,6.5,7,7.5,8,8.5,9,9.5,10],"tickSize":-7,"title":null,"encode":{"ticks":{"update":{"stroke":{"value":"black"},"strokeOpacity":{"value":1},"opacity":{"value":1}}}}}}}},
  {"data":{"name":"pts"},"transform":[{"filter":"datum.p==='F'"}],"mark":{"type":"rule","strokeWidth":1.5,"opacity":0.7},"encoding":{"x":{"field":"xlo","type":"quantitative","axis":null},"x2":{"field":"xhi"},"y":{"field":"y","type":"quantitative","axis":null},"color":{"field":"k","type":"nominal","legend":null}}},
  {"data":{"name":"pts"},"transform":[{"filter":"datum.p==='F'"},{"fold":["xlo","xhi"],"as":["w","xc"]}],"mark":{"type":"point","shape":"M0,-1L0,1","filled":false,"size":169,"strokeWidth":1.5,"opacity":0.7},"encoding":{"x":{"field":"xc","type":"quantitative","axis":null},"y":{"field":"y","type":"quantitative","axis":null},"color":{"field":"k","type":"nominal","legend":null}}},
  {"data":{"name":"pts"},"transform":[{"filter":"datum.p==='F'"}],"mark":{"type":"rule","strokeWidth":1.5,"opacity":0.7},"encoding":{"y":{"field":"ylo","type":"quantitative","axis":null},"y2":{"field":"yhi"},"x":{"field":"x","type":"quantitative","axis":null},"color":{"field":"k","type":"nominal","legend":null}}},
  {"data":{"name":"pts"},"transform":[{"filter":"datum.p==='F'"},{"fold":["ylo","yhi"],"as":["w","yc"]}],"mark":{"type":"point","shape":"M-1,0L1,0","filled":false,"size":169,"strokeWidth":1.5,"opacity":0.7},"encoding":{"x":{"field":"x","type":"quantitative","axis":null},"y":{"field":"yc","type":"quantitative","axis":null},"color":{"field":"k","type":"nominal","legend":null}}},
  {"data":{"name":"pts"},"transform":[{"filter":"datum.p==='F' && datum.m==='sq'"}],"mark":{"type":"point","shape":"square","filled":true,"size":250,"opacity":1},"encoding":{"x":{"field":"x","type":"quantitative","axis":null},"y":{"field":"y","type":"quantitative","axis":null},"color":{"field":"k","type":"nominal","legend":null}}},
  {"data":{"name":"txt"},"transform":[{"filter":"datum.p==='F' && datum.f==='ann'"}],"mark":{"type":"text","fontSize":20,"color":"black","align":"center","baseline":"middle"},"encoding":{"x":{"field":"x","type":"quantitative","axis":null},"y":{"field":"y","type":"quantitative","axis":null},"text":{"field":"t"}}},
  {"data":{"name":"txt"},"transform":[{"filter":"datum.p==='F' && datum.f==='let'"}],"mark":{"type":"text","fontSize":29,"fontWeight":"bold","color":"black","align":"center","baseline":"middle"},"encoding":{"x":{"field":"x","type":"quantitative","axis":null},"y":{"field":"y","type":"quantitative","axis":null},"text":{"field":"t"}}},
  {"data":{"name":"box"},"transform":[{"filter":"datum.p==='F'"}],"mark":{"type":"rect","fill":"white","strokeWidth":2},"encoding":{"x":{"field":"bx1","type":"quantitative","axis":null},"x2":{"field":"bx2"},"y":{"field":"by1","type":"quantitative","axis":null},"y2":{"field":"by2"},"stroke":{"field":"t","type":"nominal","legend":null}}},
  {"data":{"name":"box"},"transform":[{"filter":"datum.p==='F'"}],"mark":{"type":"text","fontSize":27,"color":"black","align":"center","baseline":"middle"},"encoding":{"x":{"field":"xc","type":"quantitative","axis":null},"y":{"field":"yc","type":"quantitative","axis":null},"text":{"field":"t"}}}
 ]}
]
}
